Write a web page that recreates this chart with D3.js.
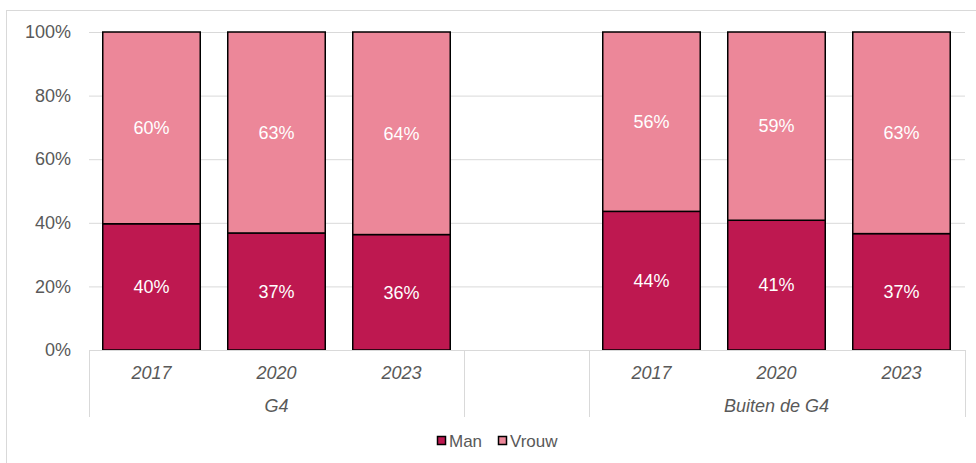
<!DOCTYPE html>
<html>
<head>
<meta charset="utf-8">
<script src="https://cdn.jsdelivr.net/npm/d3@7"></script>
<style>
  body { margin: 0; background: #fff; }
  text { font-family: "Liberation Sans", Arial, sans-serif; }
</style>
</head>
<body>
<svg id="chart" width="976" height="463"></svg>
<script>
// data
var groups = ["G4", "", "Buiten de G4"];
var years = ["2017", "2020", "2023"];
var slots = ["G4|2017", "G4|2020", "G4|2023", "gap", "B|2017", "B|2020", "B|2023"];
var man = [39.7, 36.8, 36.3, null, 43.6, 40.8, 36.6];
var vrouw = man.map(function (d) { return d == null ? null : 100 - d; });
var yTicks = [0, 20, 40, 60, 80, 100];
var series = ["Man", "Vrouw"];
var colors = ["#be1850", "#ec8799"];

var svg = d3.select("#chart");
var fs = 18;

// outer frame
svg.append("rect")
  .attr("x", 6.5).attr("y", 10.5)
  .attr("width", 990).attr("height", 470)
  .attr("fill", "none").attr("stroke", "#d9d9d9");

var plotL = 89, plotR = 964, plotT = 32, plotB = 350;

var x = d3.scaleBand().domain(slots).range([plotL, plotR])
  .paddingInner(0.22).paddingOuter(0.11);
var y = d3.scaleLinear().domain([0, 100]).range([plotB, plotT]);

// gridlines
svg.append("g")
  .selectAll("line")
  .data(yTicks.filter(function (d) { return d > 0; }))
  .join("line")
  .attr("x1", plotL).attr("x2", plotR + 1)
  .attr("y1", function (d) { return y(d) + 0.5; })
  .attr("y2", function (d) { return y(d) + 0.5; })
  .attr("stroke", "#d9d9d9").attr("stroke-width", 1);

// y axis labels
var yAxis = d3.axisLeft(y).tickValues(yTicks).tickSize(0).tickPadding(18)
  .tickFormat(function (d) { return d + "%"; });
svg.append("g")
  .attr("transform", "translate(" + plotL + ",0)")
  .call(yAxis)
  .call(function (g) { g.select(".domain").remove(); })
  .selectAll("text")
  .attr("font-size", fs)
  .attr("fill", "#595959")
  .attr("font-family", "Liberation Sans, Arial, sans-serif");

// stacked bars
var rows = slots.map(function (s, i) {
  return { slot: s, Man: man[i], Vrouw: vrouw[i] };
}).filter(function (d) { return d.Man != null; });
var stacked = d3.stack().keys(series)(rows);

var layer = svg.append("g").selectAll("g")
  .data(stacked)
  .join("g")
  .attr("fill", function (d, i) { return colors[i]; });

layer.selectAll("rect")
  .data(function (d) { return d; })
  .join("rect")
  .attr("x", function (d) { return x(d.data.slot); })
  .attr("width", x.bandwidth())
  .attr("y", function (d) { return y(d[1]); })
  .attr("height", function (d) { return y(d[0]) - y(d[1]); })
  .attr("stroke", "#000").attr("stroke-width", 1.5);

layer.selectAll("text")
  .data(function (d) { return d; })
  .join("text")
  .attr("x", function (d) { return x(d.data.slot) + x.bandwidth() / 2; })
  .attr("y", function (d) { return (y(d[0]) + y(d[1])) / 2; })
  .attr("dy", "0.35em")
  .attr("text-anchor", "middle")
  .attr("fill", "#fff")
  .attr("font-size", fs)
  .text(function (d) { return d3.format(".0f")(d[1] - d[0]) + "%"; });

// category axis (two levels)
var axisCol = "#d9d9d9";
svg.append("line")
  .attr("x1", plotL).attr("x2", plotR + 1)
  .attr("y1", plotB + 0.5).attr("y2", plotB + 0.5)
  .attr("stroke", axisCol);

var gapW = (x.step() - x.bandwidth()) / 2;
var sepX = [plotL, x("gap") - gapW, x("B|2017") - gapW, plotR + 1];
svg.append("g").selectAll("line")
  .data(sepX)
  .join("line")
  .attr("x1", function (d) { return Math.round(d) + 0.5; })
  .attr("x2", function (d) { return Math.round(d) + 0.5; })
  .attr("y1", plotB).attr("y2", 417)
  .attr("stroke", axisCol);

svg.append("g").selectAll("text")
  .data(slots.filter(function (s) { return s !== "gap"; }))
  .join("text")
  .attr("x", function (d) { return x(d) + x.bandwidth() / 2; })
  .attr("y", 373)
  .attr("dy", "0.35em")
  .attr("text-anchor", "middle")
  .attr("font-size", fs)
  .attr("font-style", "italic")
  .attr("fill", "#595959")
  .text(function (d) { return years[years.indexOf(d.split("|")[1])]; });

var groupCenters = [
  (x("G4|2017") + x("G4|2023") + x.bandwidth()) / 2,
  null,
  (x("B|2017") + x("B|2023") + x.bandwidth()) / 2
];
svg.append("g").selectAll("text")
  .data(groups.map(function (g, i) { return { name: g, cx: groupCenters[i] }; })
    .filter(function (d) { return d.name !== ""; }))
  .join("text")
  .attr("x", function (d) { return d.cx; })
  .attr("y", 406)
  .attr("dy", "0.35em")
  .attr("text-anchor", "middle")
  .attr("font-size", fs)
  .attr("font-style", "italic")
  .attr("fill", "#595959")
  .text(function (d) { return d.name; });

// legend
var legend = svg.append("g").attr("transform", "translate(437,441)");
var lx = [0, 61];
var item = legend.selectAll("g")
  .data(series)
  .join("g")
  .attr("transform", function (d, i) { return "translate(" + lx[i] + ",0)"; });
item.append("rect")
  .attr("x", 0.5).attr("y", -4.5)
  .attr("width", 8).attr("height", 8)
  .attr("fill", function (d, i) { return colors[i]; })
  .attr("stroke", "#000").attr("stroke-width", 1.5);
item.append("text")
  .attr("x", 12).attr("y", 0)
  .attr("dy", "0.35em")
  .attr("font-size", 17)
  .attr("fill", "#595959")
  .text(function (d) { return d; });
</script>
</body>
</html>
